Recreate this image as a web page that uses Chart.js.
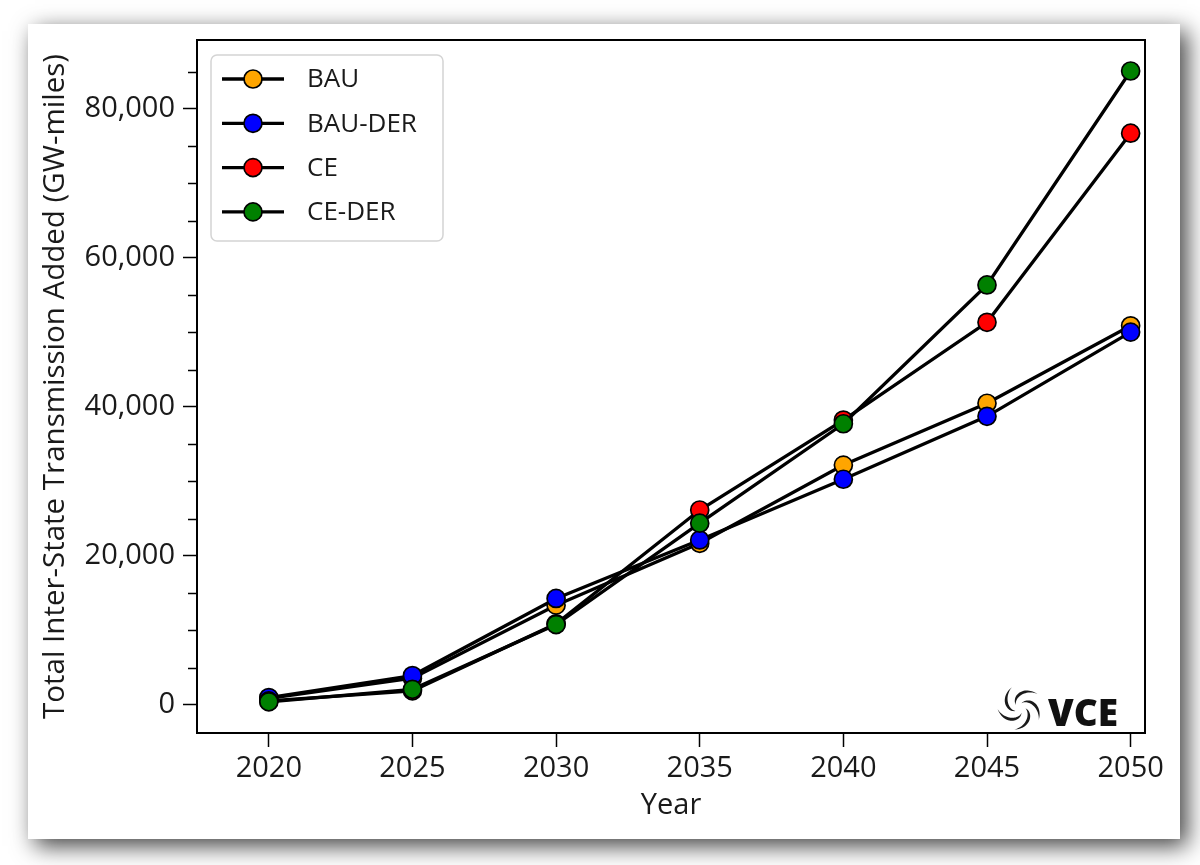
<!DOCTYPE html>
<html>
<head>
<meta charset="utf-8">
<script src="https://cdn.jsdelivr.net/npm/chart.js@4.4.1/dist/chart.umd.min.js"></script>
<style>
  html, body { margin: 0; padding: 0; background: #ffffff; }
  #wrap { width: 1200px; height: 865px; }
</style>
</head>
<body>
<div id="wrap"><canvas id="c" width="1200" height="865"></canvas></div>
<script>
// ---- data ----
const years = [2020, 2025, 2030, 2035, 2040, 2045, 2050];
const seriesNames = ["BAU", "BAU-DER", "CE", "CE-DER"];
const seriesColors = ["orange", "blue", "red", "green"];
const bau    = [900, 3600, 13400, 21700, 32200, 40500, 50900];
const bauDer = [1000, 3950, 14300, 22150, 30300, 38750, 50050];
const ce     = [550, 1900, 10900, 26170, 38250, 51370, 76750];
const ceDer  = [420, 2100, 10800, 24400, 37750, 56380, 85100];
const yTickValues = [0, 20000, 40000, 60000, 80000];
const yTitle = "Total Inter-State Transmission Added (GW-miles)";
const xTitle = "Year";

const seriesValues = [bau, bauDer, ce, ceDer];
const FONT = "'Open Sans', 'DejaVu Sans', sans-serif";
const TEXT = "#1a1a1a";

const CHART = { left: 197, top: 40, right: 1145, bottom: 733 };
const PAD_LEFT = 38, PAD_BOTTOM = 38;

const datasets = seriesNames.map((name, i) => ({
  label: name,
  data: years.map((y, j) => ({ x: y, y: seriesValues[i][j] })),
  borderColor: "#000000",
  borderWidth: 3.3,
  pointRadius: 9,
  pointHoverRadius: 9,
  pointBackgroundColor: seriesColors[i],
  pointBorderColor: "#000000",
  pointBorderWidth: 1.7,
  tension: 0,
  order: seriesNames.length - i
}));

const framePlugin = {
  id: "frame",
  beforeDraw(chart) {
    const ctx = chart.ctx;
    ctx.save();
    ctx.fillStyle = "#ffffff";
    ctx.fillRect(0, 0, chart.width, chart.height);
    ctx.shadowColor = "rgba(0,0,0,0.75)";
    ctx.shadowBlur = 22;
    ctx.shadowOffsetX = 7;
    ctx.shadowOffsetY = 7;
    ctx.fillStyle = "#ffffff";
    ctx.fillRect(28, 24, 1152, 815);
    ctx.restore();
  },
  afterDatasetsDraw(chart) {
    const ctx = chart.ctx;
    const a = chart.chartArea;
    ctx.save();
    ctx.strokeStyle = "#000000";
    ctx.lineWidth = 2;
    ctx.strokeRect(a.left, a.top, a.right - a.left, a.bottom - a.top);
    // minor ticks on y axis
    const ys = chart.scales.y;
    ctx.lineWidth = 1.5;
    ctx.beginPath();
    for (let v = 5000; v <= ys.max; v += 5000) {
      if (v % 20000 === 0) continue;
      const py = Math.round(ys.getPixelForValue(v)) + 0.5;
      ctx.moveTo(a.left - 9, py);
      ctx.lineTo(a.left, py);
    }
    ctx.stroke();
    ctx.restore();
  },
  afterDraw(chart) {
    const ctx = chart.ctx;
    ctx.save();
    // legend
    const lx = 211, ly = 55, lw = 232, lh = 186;
    ctx.fillStyle = "rgba(255,255,255,0.85)";
    ctx.strokeStyle = "#d4d4d4";
    ctx.lineWidth = 1.5;
    ctx.beginPath();
    ctx.roundRect(lx, ly, lw, lh, 6);
    ctx.fill();
    ctx.stroke();
    seriesNames.forEach((name, i) => {
      const cy = 79 + i * 44.3;
      ctx.strokeStyle = "#000000";
      ctx.lineWidth = 3.3;
      ctx.beginPath();
      ctx.moveTo(222, cy);
      ctx.lineTo(284, cy);
      ctx.stroke();
      ctx.beginPath();
      ctx.arc(253, cy, 9, 0, Math.PI * 2);
      ctx.fillStyle = seriesColors[i];
      ctx.fill();
      ctx.lineWidth = 1.7;
      ctx.stroke();
      ctx.fillStyle = TEXT;
      ctx.font = "26px " + FONT;
      ctx.textBaseline = "middle";
      ctx.textAlign = "left";
      ctx.fillText(name, 307, cy + 1);
    });
    // VCE logo
    ctx.fillStyle = "#111111";
    ctx.font = "800 37px " + FONT;
    ctx.textBaseline = "alphabetic";
    ctx.textAlign = "left";
    ctx.fillText("VCE", 1048, 726);
    const cx = 1020, cyl = 708;
    ctx.fillStyle = "#1a1a1a";
    for (let k = 0; k < 5; k++) {
      const base = k * (Math.PI * 2 / 5);
      const pts = [];
      const N = 28;
      for (let s = 0; s <= N; s++) {
        const t = s / N;
        const r = 5 + 18 * t;
        const ang = base + 1.9 * t;
        const w = 3.6 * Math.sin(Math.PI * Math.min(1, t * 1.05));
        pts.push({ r, ang, w });
      }
      ctx.beginPath();
      pts.forEach((p, s) => {
        const rr = p.r + p.w / 2;
        const px = cx + rr * Math.cos(p.ang), py = cyl + rr * Math.sin(p.ang);
        if (s === 0) ctx.moveTo(px, py); else ctx.lineTo(px, py);
      });
      for (let s = pts.length - 1; s >= 0; s--) {
        const p = pts[s];
        const rr = p.r - p.w / 2;
        ctx.lineTo(cx + rr * Math.cos(p.ang), cyl + rr * Math.sin(p.ang));
      }
      ctx.closePath();
      ctx.fill();
    }
    ctx.restore();
  }
};

new Chart(document.getElementById("c"), {
  type: "line",
  data: { datasets },
  plugins: [framePlugin],
  options: {
    responsive: false,
    animation: false,
    devicePixelRatio: 1,
    layout: { padding: { left: PAD_LEFT, top: CHART.top, right: 1200 - CHART.right, bottom: PAD_BOTTOM } },
    plugins: { legend: { display: false }, tooltip: { enabled: false } },
    scales: {
      x: {
        type: "linear",
        min: 2017.5,
        max: 2050.5,
        afterBuildTicks(scale) { scale.ticks = years.map(v => ({ value: v })); },
        afterFit(scale) { scale.height = 865 - PAD_BOTTOM - CHART.bottom; },
        border: { display: false },
        grid: { drawOnChartArea: false, drawTicks: true, tickLength: 14, tickWidth: 1.5, tickColor: "#000" },
        ticks: { color: TEXT, font: { family: FONT, size: 29 }, padding: 4, maxRotation: 0, autoSkip: false,
                 callback: v => String(v) },
        title: { display: true, text: xTitle, color: TEXT, font: { family: FONT, size: 29 }, padding: { top: 0, bottom: 4 } }
      },
      y: {
        type: "linear",
        min: -3760,
        max: 89260,
        afterBuildTicks(scale) { scale.ticks = yTickValues.map(v => ({ value: v })); },
        afterFit(scale) { scale.width = CHART.left - PAD_LEFT; },
        border: { display: false },
        grid: { drawOnChartArea: false, drawTicks: true, tickLength: 14, tickWidth: 1.5, tickColor: "#000" },
        ticks: { color: TEXT, font: { family: FONT, size: 29 }, padding: 8, autoSkip: false,
                 callback: v => Number(v).toLocaleString("en-US") },
        title: { display: true, text: yTitle, color: TEXT, font: { family: FONT, size: 29.5 }, padding: { top: 0, bottom: 0 } }
      }
    }
  }
});
</script>
</body>
</html>
